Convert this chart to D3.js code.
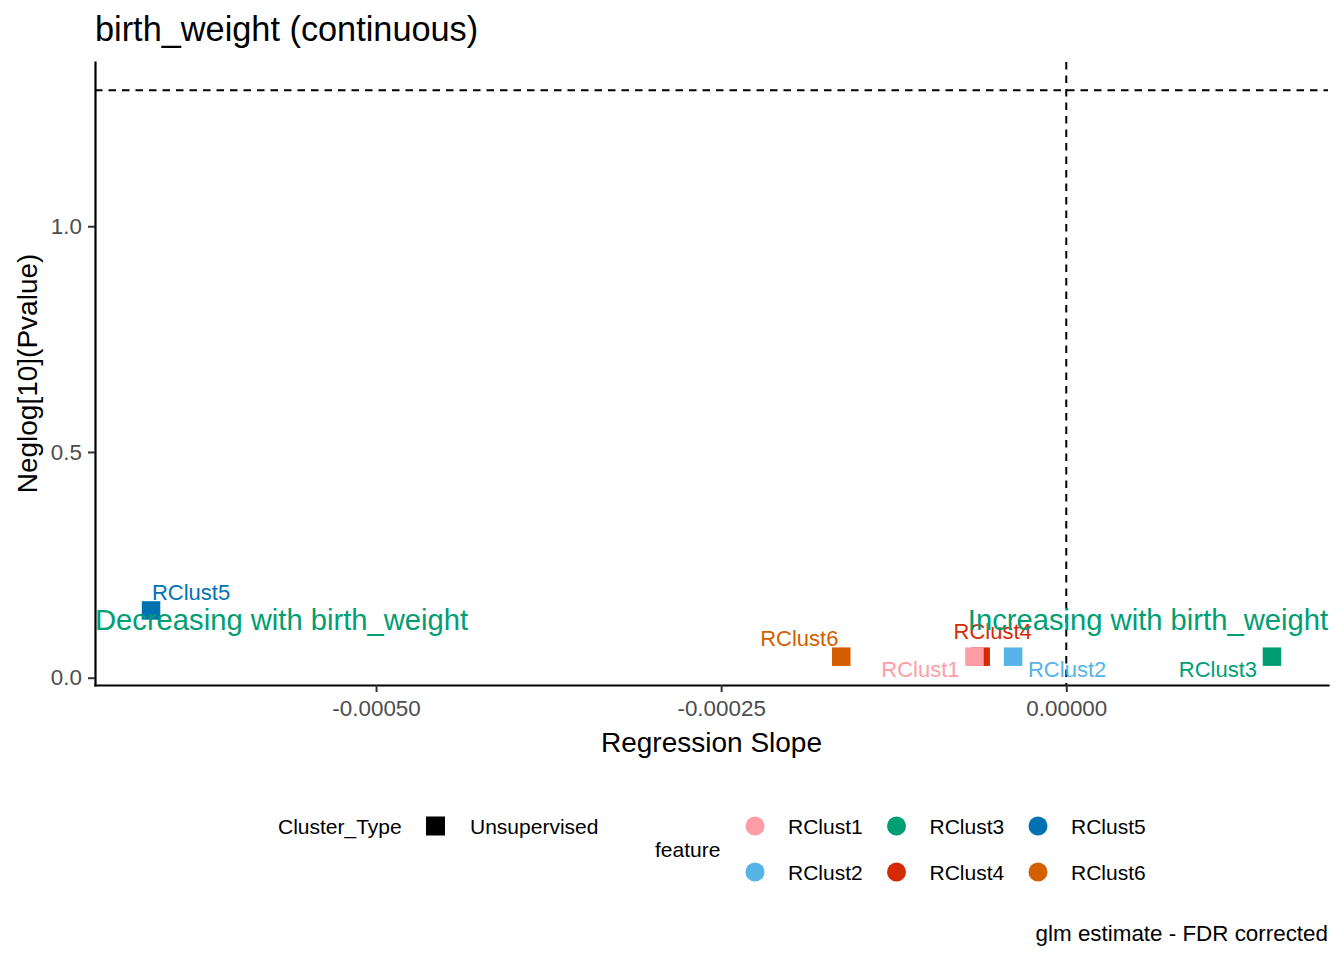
<!DOCTYPE html>
<html>
<head>
<meta charset="utf-8">
<script src="https://cdn.jsdelivr.net/npm/d3@7"></script>
<style>
  body { margin: 0; background: #fff; }
  text { font-family: "Liberation Sans", Arial, sans-serif; }
</style>
</head>
<body>
<script>
// birth_weight volcano-style plot: slope vs -log10(p)

// data rows (in plotting order)
var features = ["RClust4", "RClust1", "RClust2", "RClust3", "RClust5", "RClust6"];
var slopes = [-0.000062, -0.0000665, -0.0000385, 0.000149, -0.000663, -0.000163];
var negLogP = [0.0466, 0.0466, 0.0466, 0.0466, 0.149, 0.0466];
var clusterType = ["Unsupervised", "Unsupervised", "Unsupervised", "Unsupervised", "Unsupervised", "Unsupervised"];

var legendFeatures = ["RClust1", "RClust2", "RClust3", "RClust4", "RClust5", "RClust6"];
var featureColors = ["#FF9DA6", "#56B4E9", "#009E73", "#D42B06", "#0072B2", "#D55E00"];

var xTicks = [-0.0005, -0.00025, 0];
var yTicks = [0, 0.5, 1.0];
var pThreshold = -Math.log10(0.05);

var title = "birth_weight (continuous)";
var xTitle = "Regression Slope";
var yTitle = "Neglog[10](Pvalue)";
var caption = "glm estimate - FDR corrected";
var trendVar = "birth_weight";

function init() {
    var w = 1344;
    var h = 960;
    var left = 95, right = 1328, top = 62, bottom = 685;

    var svg = d3.select("body")
                .append("svg")
                .attr("width", w)
                .attr("height", h);

    var color = d3.scaleOrdinal().domain(legendFeatures).range(featureColors);

    // x domain: data extent padded 5%
    var xExt = d3.extent(slopes);
    var xPad = (xExt[1] - xExt[0]) * 0.05;
    var xScale = d3.scaleLinear()
                   .domain([xExt[0] - xPad, xExt[1] + xPad])
                   .range([left, right]);

    // y domain includes the threshold line
    var yLo = d3.min(negLogP), yHi = Math.max(d3.max(negLogP), pThreshold);
    var yPad = (yHi - yLo) * 0.05;
    var yScale = d3.scaleLinear()
                   .domain([yLo - yPad, yHi + yPad])
                   .range([bottom, top]);

    var rows = features.map(function (f, i) {
        return { feature: f, slope: slopes[i], p: negLogP[i], type: clusterType[i] };
    });

    // reference lines
    svg.append("line")
        .attr("x1", left).attr("x2", right)
        .attr("y1", yScale(pThreshold)).attr("y2", yScale(pThreshold))
        .attr("stroke", "#000").attr("stroke-width", 2)
        .attr("stroke-dasharray", "7.5,6");
    svg.append("line")
        .attr("x1", xScale(0)).attr("x2", xScale(0))
        .attr("y1", top).attr("y2", bottom)
        .attr("stroke", "#000").attr("stroke-width", 2)
        .attr("stroke-dasharray", "7.5,6");

    // points
    var sz = 18.5;
    svg.selectAll("rect.pt")
        .data(rows)
        .enter()
        .append("rect")
        .attr("class", "pt")
        .attr("x", function (d) { return xScale(d.slope) - sz / 2; })
        .attr("y", function (d) { return yScale(d.p) - sz / 2; })
        .attr("width", sz)
        .attr("height", sz)
        .attr("fill", function (d) { return color(d.feature); });

    // repelled labels (offsets in px from the point)
    var labelOffset = {
        RClust1: [-54, 13], RClust2: [54, 13], RClust3: [-54, 13],
        RClust4: [12, -25], RClust5: [40, -18], RClust6: [-42, -18]
    };
    svg.selectAll("text.lab")
        .data(rows)
        .enter()
        .append("text")
        .attr("class", "lab")
        .attr("x", function (d) { return xScale(d.slope) + labelOffset[d.feature][0]; })
        .attr("y", function (d) { return yScale(d.p) + labelOffset[d.feature][1]; })
        .attr("text-anchor", "middle")
        .attr("dominant-baseline", "central")
        .attr("font-size", "22px")
        .attr("fill", function (d) { return color(d.feature); })
        .text(function (d) { return d.feature; });

    // direction annotations
    var annY = yScale(0.127);
    svg.append("text")
        .attr("x", left).attr("y", annY)
        .attr("dominant-baseline", "central")
        .attr("font-size", "29.2px").attr("fill", "#009E73")
        .text("Decreasing with " + trendVar);
    svg.append("text")
        .attr("x", right).attr("y", annY)
        .attr("text-anchor", "end")
        .attr("dominant-baseline", "central")
        .attr("font-size", "29.2px").attr("fill", "#009E73")
        .text("Increasing with " + trendVar);

    // axes
    var xAxis = d3.axisBottom(xScale)
                  .tickValues(xTicks)
                  .tickSizeInner(7).tickSizeOuter(0).tickPadding(8)
                  .tickFormat(function (d) { return d3.format(".5f")(d).replace("\u2212", "-"); });
    var gx = svg.append("g")
        .attr("transform", "translate(0," + bottom + ")")
        .call(xAxis);

    var yAxis = d3.axisLeft(yScale)
                  .tickValues(yTicks)
                  .tickSizeInner(7).tickSizeOuter(0).tickPadding(6)
                  .tickFormat(d3.format(".1f"));
    var gy = svg.append("g")
        .attr("transform", "translate(" + left + ",0)")
        .call(yAxis);

    [gx, gy].forEach(function (g) {
        g.select(".domain").attr("stroke", "#000").attr("stroke-width", 2.2)
         .attr("stroke-linecap", "square");
        g.selectAll(".tick line").attr("stroke", "#333").attr("stroke-width", 2);
        g.selectAll(".tick text").attr("fill", "#4D4D4D")
         .attr("font-size", "22.4px")
         .attr("font-family", "'Liberation Sans', Arial, sans-serif");
    });

    // titles
    svg.append("text")
        .attr("x", left).attr("y", 41)
        .attr("font-size", "34.3px").attr("fill", "#000")
        .text(title);
    svg.append("text")
        .attr("x", (left + right) / 2).attr("y", 752)
        .attr("text-anchor", "middle")
        .attr("font-size", "28px").attr("fill", "#000")
        .text(xTitle);
    svg.append("text")
        .attr("transform", "translate(37," + ((top + bottom) / 2) + ") rotate(-90)")
        .attr("text-anchor", "middle")
        .attr("font-size", "28px").attr("fill", "#000")
        .text(yTitle);
    svg.append("text")
        .attr("x", right).attr("y", 941)
        .attr("text-anchor", "end")
        .attr("font-size", "22.4px").attr("fill", "#000")
        .text(caption);

    // legend: Cluster_Type
    var lg = svg.append("g").attr("class", "legend");
    lg.append("text")
        .attr("x", 278).attr("y", 826)
        .attr("dominant-baseline", "central")
        .attr("font-size", "21px")
        .text("Cluster_Type");
    lg.append("rect")
        .attr("x", 426).attr("y", 816.5)
        .attr("width", 19).attr("height", 19)
        .attr("fill", "#000");
    lg.append("text")
        .attr("x", 470).attr("y", 826)
        .attr("dominant-baseline", "central")
        .attr("font-size", "21px")
        .text(clusterType[0]);

    // legend: feature
    lg.append("text")
        .attr("x", 655).attr("y", 849)
        .attr("dominant-baseline", "central")
        .attr("font-size", "21px")
        .text("feature");
    var items = lg.selectAll("g.item")
        .data(legendFeatures)
        .enter()
        .append("g")
        .attr("class", "item")
        .attr("transform", function (d, i) {
            var col = Math.floor(i / 2), row = i % 2;
            return "translate(" + (755 + col * 141.5) + "," + (826 + row * 46) + ")";
        });
    items.append("circle")
        .attr("r", 9.5)
        .attr("fill", function (d) { return color(d); });
    items.append("text")
        .attr("x", 33).attr("y", 0)
        .attr("dominant-baseline", "central")
        .attr("font-size", "21px")
        .text(function (d) { return d; });
}

window.onload = init;
</script>
</body>
</html>
